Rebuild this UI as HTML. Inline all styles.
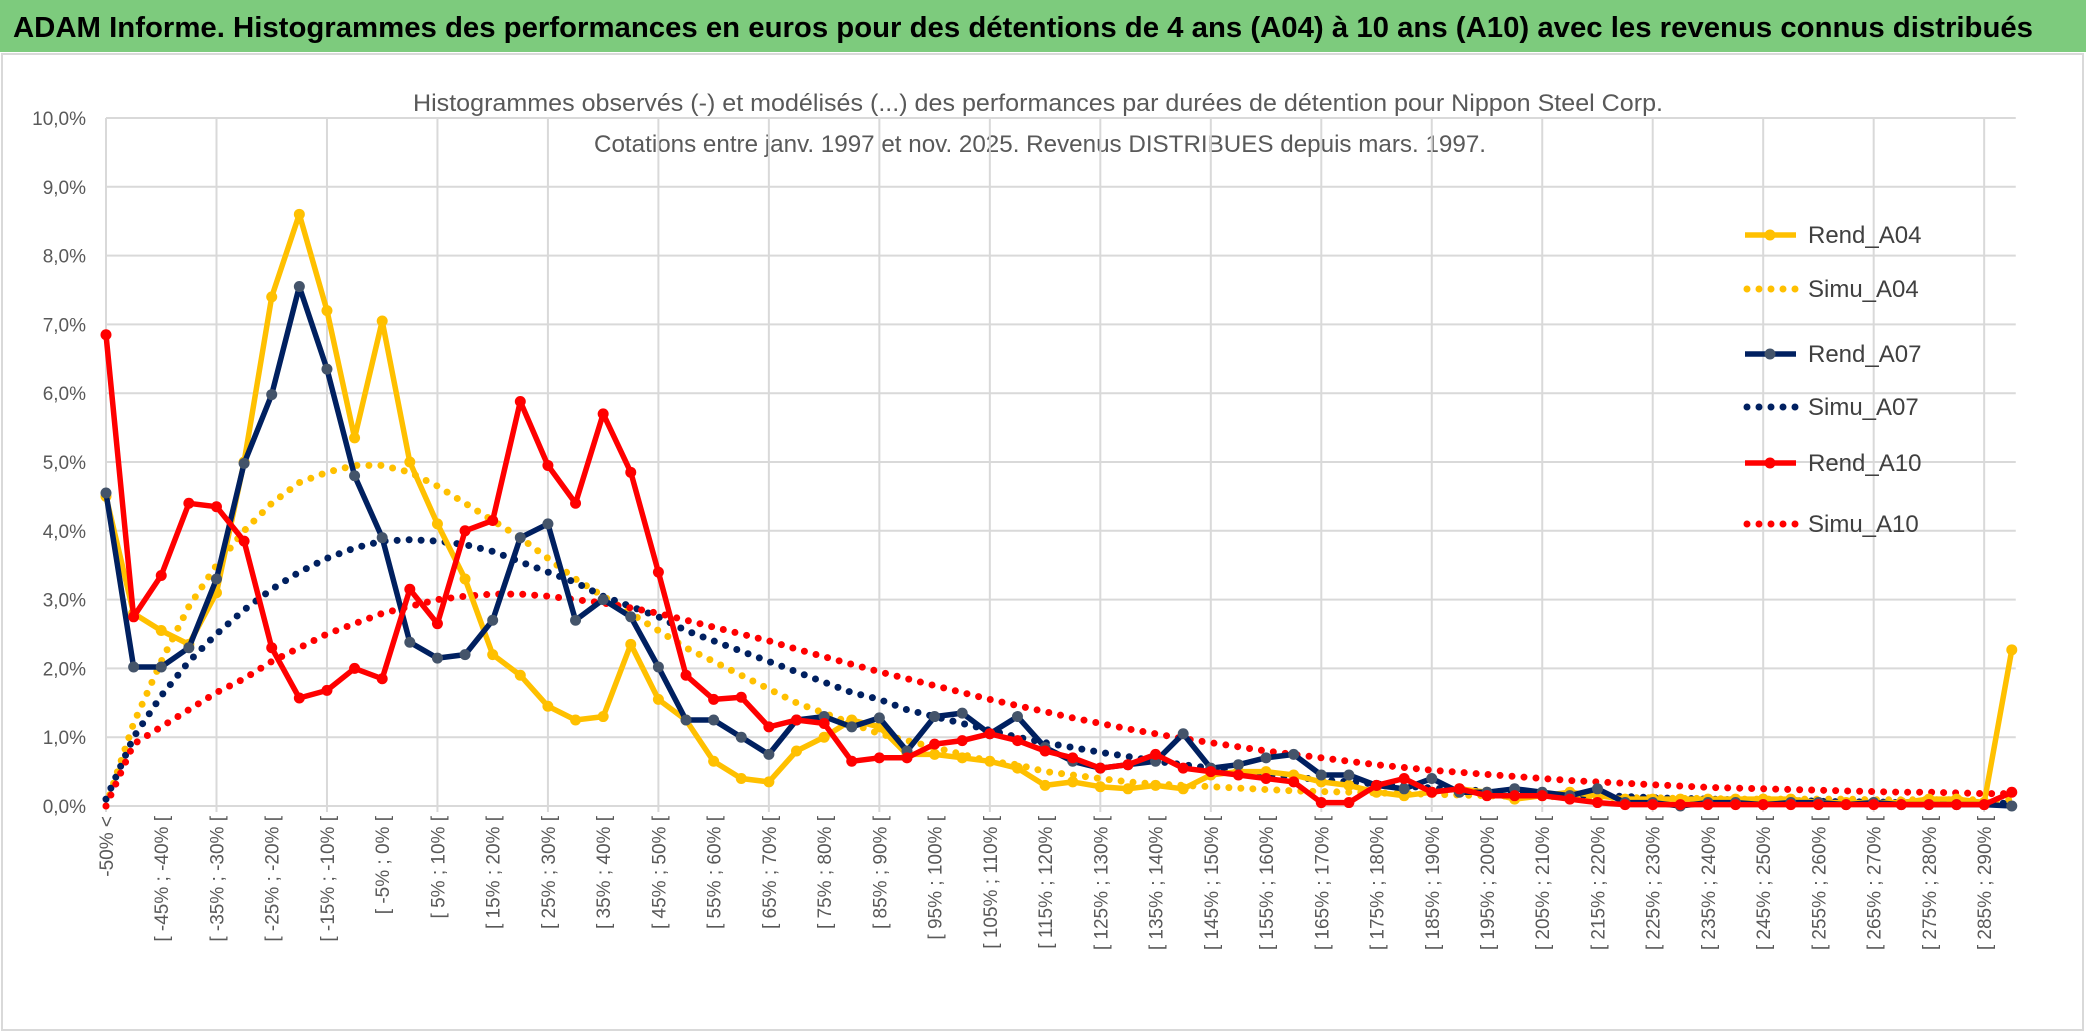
<!DOCTYPE html>
<html><head><meta charset="utf-8"><style>
html,body{margin:0;padding:0;background:#fff;}
svg{display:block;font-family:"Liberation Sans",sans-serif;}
</style></head><body>
<svg id="chart" width="2086" height="1033" viewBox="0 0 2086 1033" xmlns="http://www.w3.org/2000/svg">
<rect x="0" y="0" width="2086" height="1033" fill="#fff"/>
<rect x="0" y="0" width="2086" height="52" fill="#7dcb7d"/>
<text x="13" y="37" font-size="29" font-weight="bold" fill="#000" textLength="2020" lengthAdjust="spacingAndGlyphs">ADAM Informe. Histogrammes des performances en euros pour des détentions de 4 ans (A04) à 10 ans (A10) avec les revenus connus distribués</text>
<rect x="2" y="54" width="2081" height="976" fill="none" stroke="#d9d9d9" stroke-width="2"/>
<text x="1038" y="111" font-size="24" fill="#595959" text-anchor="middle" textLength="1250" lengthAdjust="spacingAndGlyphs">Histogrammes observés (-) et modélisés (...) des performances par durées de détention pour Nippon Steel Corp.</text>
<text x="1040" y="152" font-size="24" fill="#595959" text-anchor="middle" textLength="892" lengthAdjust="spacingAndGlyphs">Cotations entre janv. 1997 et nov. 2025. Revenus DISTRIBUES depuis mars. 1997.</text>
<g id="grid"></g>
<g id="yaxis"></g>
<g id="xaxis"></g>
<g id="series"></g>
<g id="legend"></g>
</svg>
<script>
const categories = ["-50% <"];
for (let a = -50; a < 295; a += 5) categories.push("[ " + a + "% ; " + (a + 5) + "% [");
const yTicks = [0,1,2,3,4,5,6,7,8,9,10];
const yTickLabels = ["0,0%","1,0%","2,0%","3,0%","4,0%","5,0%","6,0%","7,0%","8,0%","9,0%","10,0%"];
const rendA04 = [4.5,2.8,2.55,2.35,3.1,5.0,7.4,8.6,7.2,5.35,7.05,5.0,4.1,3.3,2.2,1.9,1.45,1.25,1.3,2.35,1.55,1.25,0.65,0.4,0.35,0.8,1.0,1.25,1.15,0.75,0.75,0.7,0.65,0.55,0.3,0.35,0.28,0.25,0.3,0.25,0.45,0.5,0.5,0.45,0.35,0.3,0.2,0.15,0.2,0.25,0.2,0.1,0.15,0.2,0.15,0.1,0.1,0.1,0.1,0.1,0.1,0.1,0.05,0.05,0.05,0.05,0.1,0.1,0.05,2.27];
const simuA04 = [0.0,1.2,2.1,2.9,3.5,4.0,4.4,4.7,4.85,4.95,4.95,4.85,4.65,4.4,4.15,3.9,3.6,3.3,3.05,2.8,2.55,2.3,2.1,1.9,1.7,1.5,1.35,1.2,1.05,0.95,0.85,0.75,0.65,0.6,0.5,0.45,0.4,0.35,0.32,0.3,0.28,0.26,0.24,0.22,0.21,0.2,0.19,0.18,0.17,0.16,0.15,0.14,0.14,0.13,0.13,0.12,0.12,0.11,0.11,0.1,0.1,0.1,0.1,0.1,0.09,0.09,0.09,0.09,0.09,0.09];
const rendA07 = [4.55,2.02,2.02,2.3,3.3,4.98,5.98,7.55,6.35,4.8,3.9,2.38,2.15,2.2,2.7,3.9,4.1,2.7,3.0,2.75,2.02,1.25,1.25,1.0,0.75,1.25,1.3,1.15,1.28,0.8,1.3,1.35,1.05,1.3,0.85,0.65,0.55,0.6,0.65,1.05,0.55,0.6,0.7,0.75,0.45,0.45,0.3,0.25,0.4,0.2,0.2,0.25,0.2,0.15,0.25,0.05,0.05,0.0,0.05,0.05,0.02,0.05,0.05,0.02,0.05,0.02,0.02,0.02,0.02,0.0];
const simuA07 = [0.1,1.0,1.6,2.1,2.5,2.85,3.15,3.4,3.6,3.75,3.85,3.87,3.85,3.8,3.7,3.55,3.4,3.25,3.05,2.9,2.75,2.55,2.4,2.25,2.1,1.95,1.8,1.65,1.55,1.4,1.3,1.2,1.1,1.0,0.92,0.85,0.78,0.72,0.65,0.6,0.55,0.5,0.46,0.42,0.38,0.35,0.32,0.29,0.26,0.24,0.22,0.2,0.18,0.16,0.15,0.14,0.12,0.11,0.1,0.09,0.08,0.08,0.07,0.06,0.06,0.05,0.05,0.04,0.04,0.04];
const rendA10 = [6.85,2.75,3.35,4.4,4.35,3.85,2.3,1.57,1.68,2.0,1.85,3.15,2.65,4.0,4.15,5.88,4.95,4.4,5.7,4.85,3.4,1.9,1.55,1.58,1.15,1.25,1.2,0.65,0.7,0.7,0.9,0.95,1.05,0.95,0.8,0.7,0.55,0.6,0.75,0.55,0.5,0.45,0.4,0.35,0.05,0.05,0.3,0.4,0.2,0.25,0.15,0.15,0.15,0.1,0.05,0.02,0.02,0.02,0.02,0.02,0.02,0.02,0.02,0.02,0.02,0.02,0.02,0.02,0.02,0.2];
const simuA10 = [0.0,0.9,1.15,1.4,1.65,1.85,2.1,2.3,2.5,2.65,2.8,2.9,3.0,3.05,3.08,3.08,3.05,3.0,2.95,2.88,2.8,2.7,2.6,2.5,2.4,2.28,2.17,2.06,1.95,1.85,1.75,1.65,1.55,1.46,1.37,1.28,1.2,1.12,1.05,0.98,0.92,0.86,0.8,0.75,0.7,0.65,0.6,0.56,0.52,0.49,0.46,0.43,0.4,0.37,0.35,0.33,0.31,0.29,0.27,0.26,0.25,0.24,0.23,0.22,0.21,0.2,0.2,0.19,0.18,0.18];

const NS = "http://www.w3.org/2000/svg";
const X0 = 106, XSTEP = 27.62, Y0 = 806, YPER = 68.8;
const xPos = i => X0 + i * XSTEP;
const yPos = v => Y0 - v * YPER;
function mk(tag, attrs, parent) {
  const e = document.createElementNS(NS, tag);
  for (const k in attrs) e.setAttribute(k, attrs[k]);
  parent.appendChild(e);
  return e;
}
const grid = document.getElementById("grid");
const yaxis = document.getElementById("yaxis");
const xaxis = document.getElementById("xaxis");
const series = document.getElementById("series");
const legend = document.getElementById("legend");
const xEnd = xPos(categories.length - 1) + 4;
yTicks.forEach((t, k) => {
  const l = mk("line", {x1: X0, x2: xEnd, y1: yPos(t), y2: yPos(t), stroke: "#d9d9d9", "stroke-width": 2}, grid);
  
  
  const tx = mk("text", {x: 86, y: yPos(t) + 7, "font-size": 19, fill: "#595959", "text-anchor": "end"}, yaxis);
  tx.textContent = yTickLabels[k];
  
  
});
for (let i = 0; i < categories.length; i += 4) {
  const l = mk("line", {x1: xPos(i), x2: xPos(i), y1: yPos(10), y2: Y0 + 6, stroke: "#d9d9d9", "stroke-width": 2}, grid);
  
  
}
for (let i = 0; i < categories.length; i += 2) {
  const tx = mk("text", {x: 0, y: 0, "font-size": 19, fill: "#595959", "text-anchor": "end",
    transform: "translate(" + (xPos(i) + 7) + "," + 816 + ") rotate(-90)"}, xaxis);
  tx.textContent = categories[i];
  
  
}
function pts(arr) { return arr.map((v, i) => xPos(i).toFixed(1) + "," + yPos(v).toFixed(1)).join(" "); }
function dotted(arr, color, name) {
  const p = mk("polyline", {points: pts(arr), fill: "none", stroke: color, "stroke-width": 7, "stroke-linecap": "round", "stroke-dasharray": "0 12"}, series);
  
  
}
function solid(arr, color, mcolor, name) {
  const g = mk("g", {}, series);
  
  
  mk("polyline", {points: pts(arr), fill: "none", stroke: color, "stroke-width": 5.5, "stroke-linejoin": "round"}, g);
  arr.forEach((v, i) => {
    const c = mk("circle", {cx: xPos(i), cy: yPos(v), r: 5.5, fill: mcolor}, g);
    
    
  });
}
dotted(simuA04, "#ffc000", "simu-a04-line");
dotted(simuA07, "#002060", "simu-a07-line");
dotted(simuA10, "#ff0000", "simu-a10-line");
solid(rendA04, "#ffc000", "#ffc000", "rend-a04-line");
solid(rendA07, "#002060", "#44546a", "rend-a07-line");
solid(rendA10, "#ff0000", "#ff0000", "rend-a10-line");

const legendNames = ["Rend_A04","Simu_A04","Rend_A07","Simu_A07","Rend_A10","Simu_A10"];
const legendColors = ["#ffc000","#ffc000","#002060","#002060","#ff0000","#ff0000"];
const legendY = [235,289,354,407,463,524];
legendNames.forEach((n, k) => {
  const g = mk("g", {}, legend);
  
  
  const y = legendY[k];
  if (k % 2 === 0) {
    mk("line", {x1: 1745, x2: 1796, y1: y, y2: y, stroke: legendColors[k], "stroke-width": 5.5}, g);
    mk("circle", {cx: 1770, cy: y, r: 5.5, fill: k === 2 ? "#44546a" : legendColors[k]}, g);
  } else {
    mk("line", {x1: 1747, x2: 1796, y1: y, y2: y, stroke: legendColors[k], "stroke-width": 7, "stroke-linecap": "round", "stroke-dasharray": "0 12"}, g);
  }
  const t = mk("text", {x: 1808, y: y + 8, "font-size": 24, fill: "#404040"}, g);
  t.textContent = n;
});
</script>
</body></html>
